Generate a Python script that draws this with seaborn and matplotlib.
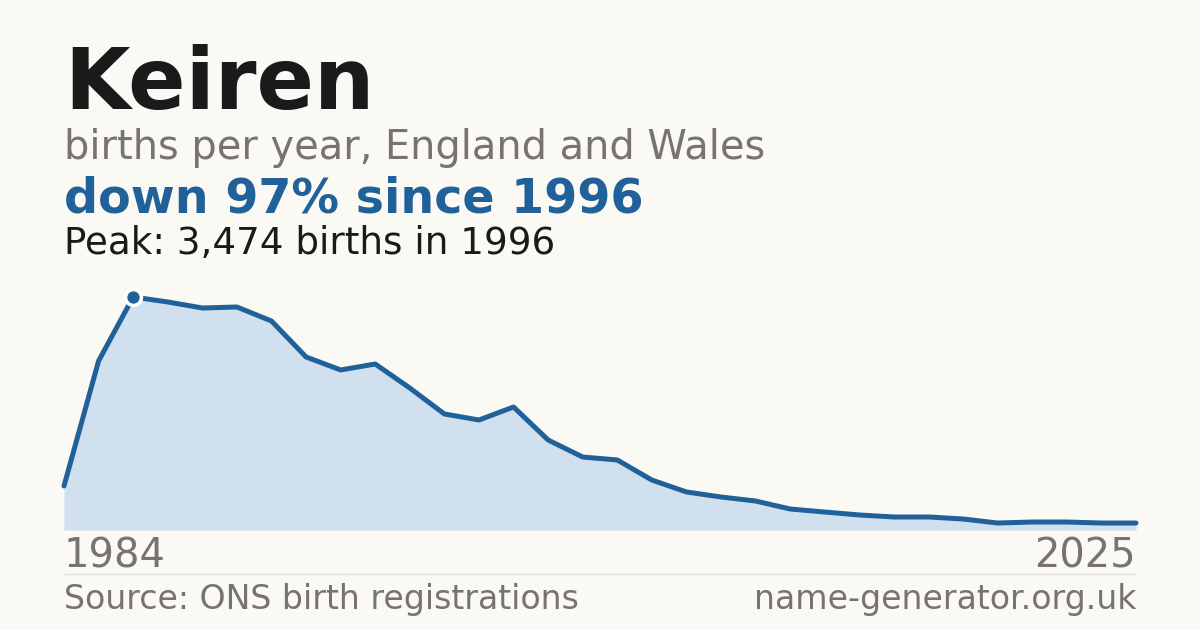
import matplotlib
matplotlib.use("Agg")
import matplotlib.pyplot as plt
import seaborn as sns
import pandas as pd

# values
years = list(range(1994, 2026))
births = [656, 2520, 3474, 3400, 3310, 3325, 3116, 2580, 2386, 2475, 2117, 1730,
          1640, 1834, 1342, 1088, 1044, 745, 567, 492, 432, 313, 268, 224,
          194, 194, 164, 104, 119, 119, 104, 104]
peak_year = 1996
peak_value = 3474
start_label = "1984"
end_label = "2025"

BG = "#faf9f4"
BLUE = "#21619a"
FILL = "#d0e0ef"
GREY = "#77736d"

sns.set_theme(style="white")
plt.rcParams["font.family"] = ["DejaVu Sans"]

df = pd.DataFrame({"year": years, "births": births})

fig = plt.figure(figsize=(12, 6.3), dpi=100, facecolor=BG)
ax = fig.add_axes([64 / 1200, 100 / 630, 1072 / 1200, 233 / 630])
ax.set_facecolor(BG)

ax.fill_between(df["year"], df["births"], color=FILL, lw=0)
sns.lineplot(data=df, x="year", y="births", ax=ax, color=BLUE, lw=3.6, clip_on=False)
ax.scatter([peak_year], [peak_value], s=130, color=BLUE, edgecolor="white",
           linewidth=2.5, zorder=5, clip_on=False)

ax.set_xlim(years[0], years[-1])
ax.set_ylim(0, peak_value)
ax.axis("off")

fig.text(64 / 1200, 1 - 85 / 630, "Keiren", fontsize=61, fontweight="bold",
         color="#1a1a1a", va="center")
fig.text(64 / 1200, 1 - 148 / 630, "births per year, England and Wales",
         fontsize=28.7, color=GREY, va="center")
fig.text(64 / 1200, 1 - 199 / 630, "down 97% since 1996", fontsize=34.3,
         fontweight="bold", color=BLUE, va="center")
fig.text(64 / 1200, 1 - 243 / 630, "Peak: 3,474 births in 1996", fontsize=26.8,
         color="#1a1a1a", va="center")

fig.text(64 / 1200, 1 - 556 / 630, start_label, fontsize=28.8, color=GREY, va="center")
fig.text(1136 / 1200, 1 - 556 / 630, end_label, fontsize=28.8, color=GREY,
         va="center", ha="right")
fig.add_artist(plt.Line2D([64 / 1200, 1136 / 1200], [1 - 574 / 630] * 2,
                          color="#e2e0da", lw=1))
fig.text(64 / 1200, 1 - 600 / 630, "Source: ONS birth registrations",
         fontsize=23.9, color=GREY, va="center")
fig.text(1136 / 1200, 1 - 600 / 630, "name-generator.org.uk", fontsize=23.9,
         color=GREY, va="center", ha="right")

fig.savefig("out.png", dpi=100, facecolor=BG)
